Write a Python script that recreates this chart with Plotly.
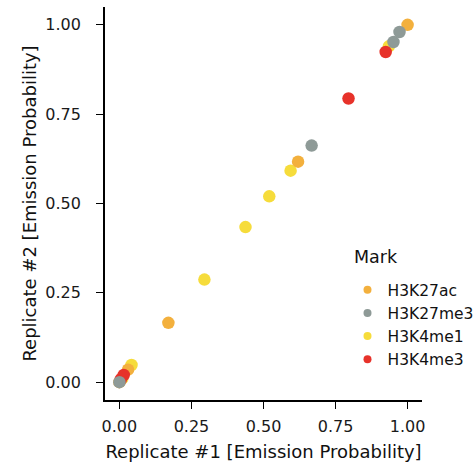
import plotly.graph_objects as go

# Emission probabilities of each chromatin mark in two replicates
marks = ["H3K27ac", "H3K27me3", "H3K4me1", "H3K4me3"]
colors = {"H3K27ac": "#F3B03D", "H3K27me3": "#8E9A97", "H3K4me1": "#F6DC3B", "H3K4me3": "#E7322A"}

h3k27ac_rep1 = [0.0, 0.03, 0.17, 0.62, 1.0]
h3k27ac_rep2 = [0.0, 0.035, 0.166, 0.617, 1.0]

h3k27me3_rep1 = [0.0, 0.667, 0.951, 0.972]
h3k27me3_rep2 = [0.0, 0.662, 0.952, 0.98]

h3k4me1_rep1 = [0.01, 0.042, 0.295, 0.4375, 0.52, 0.594, 0.935]
h3k4me1_rep2 = [0.01, 0.048, 0.287, 0.434, 0.52, 0.592, 0.94]

h3k4me3_rep1 = [0.005, 0.015, 0.795, 0.924]
h3k4me3_rep2 = [0.008, 0.02, 0.794, 0.924]

series = {
    "H3K27ac": (h3k27ac_rep1, h3k27ac_rep2),
    "H3K27me3": (h3k27me3_rep1, h3k27me3_rep2),
    "H3K4me1": (h3k4me1_rep1, h3k4me1_rep2),
    "H3K4me3": (h3k4me3_rep1, h3k4me3_rep2),
}

fig = go.Figure()
# draw order so overlapping points layer sensibly
for m in ["H3K4me1", "H3K27ac", "H3K4me3", "H3K27me3"]:
    x, y = series[m]
    fig.add_trace(go.Scatter(
        x=x, y=y, mode="markers", name=m, showlegend=False,
        marker=dict(color=colors[m], size=12.5, line=dict(width=0)),
    ))

# legend entries with smaller key symbols
for i, m in enumerate(marks):
    fig.add_trace(go.Scatter(
        x=[None], y=[None], mode="markers", name=m,
        marker=dict(color=colors[m], size=8, line=dict(width=0)),
        legendrank=i + 1,
    ))

font = "DejaVu Sans, Liberation Sans, Arial, sans-serif"
axis_common = dict(
    range=[-0.05, 1.05],
    tickvals=[0, 0.25, 0.5, 0.75, 1.0],
    ticktext=["0.00", "0.25", "0.50", "0.75", "1.00"],
    showgrid=False, zeroline=False,
    showline=True, linecolor="black", linewidth=1.8,
    ticks="outside", ticklen=7, tickwidth=1.3, tickcolor="black",
    tickfont=dict(size=16, color="#1a1a1a", family=font),
    automargin=False,
)

fig.update_layout(
    width=475, height=468,
    margin=dict(l=105, r=53, t=7, b=68, autoexpand=False),
    paper_bgcolor="white", plot_bgcolor="white",
    font=dict(family=font, color="#111111"),
    xaxis=dict(**axis_common, ticklabelstandoff=4,
               title=dict(text="Replicate #1 [Emission Probability]",
                          font=dict(size=18, family=font, color="#111111"), standoff=10)),
    yaxis=dict(**axis_common, ticklabelstandoff=12,
               title=dict(text="Replicate #2 [Emission Probability]",
                          font=dict(size=18, family=font, color="#111111"), standoff=4)),
    legend=dict(
        font=dict(size=15.5, family=font),
        x=0.765, y=0.3227, xanchor="left", yanchor="top",
        bgcolor="rgba(0,0,0,0)", itemsizing="trace",
    ),
    annotations=[dict(
        text="Mark", xref="paper", yref="paper",
        x=(352 - 105) / 317, y=(400 - 257) / 393,
        xanchor="left", yanchor="middle", showarrow=False,
        font=dict(size=17.5, family=font, color="#111111"),
    )],
)

fig.write_html("out.html")
